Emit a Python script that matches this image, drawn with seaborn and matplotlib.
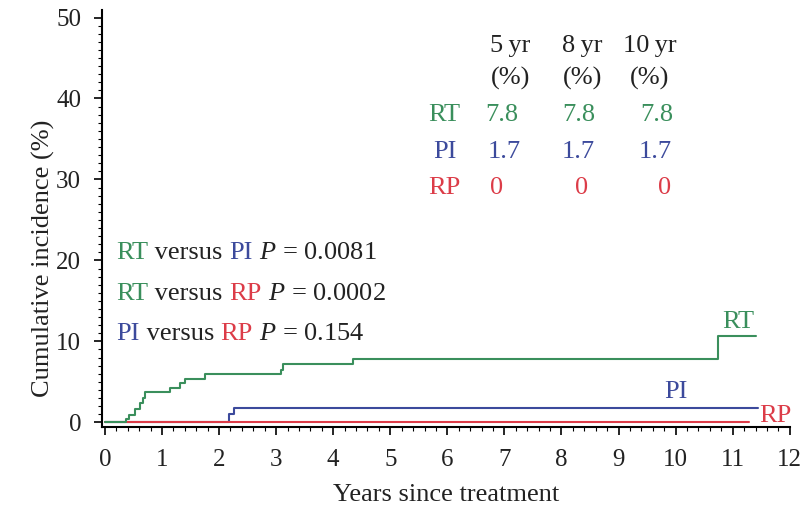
import matplotlib
matplotlib.use("Agg")
import matplotlib.pyplot as plt
import seaborn as sns
import pandas as pd
from matplotlib.ticker import MultipleLocator

# ---- data ----
rt_years = [0, 0.37, 0.43, 0.52, 0.61, 0.66, 0.70, 1.14, 1.31, 1.40, 1.75, 3.09, 3.12, 4.35, 10.75, 11.40]
rt_inc = [0, 0.45, 0.9, 1.7, 2.4, 3.05, 3.7, 4.3, 4.9, 5.3, 5.95, 6.5, 7.15, 7.8, 10.7, 10.7]
pi_years = [0, 2.17, 2.26, 11.45]
pi_inc = [0, 1.0, 1.8, 1.8]
rp_years = [0, 11.28]
rp_inc = [0, 0]

table_cols = ["5\u2009yr", "8\u2009yr", "10\u2009yr"]
table_rows = ["RT", "PI", "RP"]
table_vals = [["7.8", "7.8", "7.8"], ["1.7", "1.7", "1.7"], ["0", "0", "0"]]

GREEN = "#3a8f5c"
BLUE = "#3c4a9c"
RED = "#dc3c48"
K = "#222222"
colors = {"RT": GREEN, "PI": BLUE, "RP": RED}

df = pd.concat([
    pd.DataFrame({"years": pi_years, "inc": pi_inc, "group": "PI"}),
    pd.DataFrame({"years": rp_years, "inc": rp_inc, "group": "RP"}),
    pd.DataFrame({"years": rt_years, "inc": rt_inc, "group": "RT"}),
], ignore_index=True)

sns.set_theme(style="white")
plt.rcParams["font.family"] = ["Liberation Serif", "DejaVu Serif"]
plt.rcParams["mathtext.fontset"] = "custom"
plt.rcParams["mathtext.it"] = "Liberation Serif:italic"
plt.rcParams["mathtext.rm"] = "Liberation Serif"

fig = plt.figure(figsize=(8.1, 5.11), dpi=100)
ax = fig.add_axes([0.126, 0.164, 0.849, 0.816])

for g in ["PI", "RP", "RT"]:
    sub = df[df["group"] == g]
    sns.lineplot(data=sub, x="years", y="inc", ax=ax, color=colors[g],
                 drawstyle="steps-post", linewidth=1.5, estimator=None,
                 sort=False, legend=False)

ax.set_xlim(-0.05, 12.0)
ax.set_ylim(-0.6, 50.9)
ax.xaxis.set_major_locator(MultipleLocator(1))
ax.xaxis.set_minor_locator(MultipleLocator(0.2))
ax.yaxis.set_major_locator(MultipleLocator(10))
ax.yaxis.set_minor_locator(MultipleLocator(1))
ax.tick_params(axis="both", which="major", direction="out", length=6, width=1.2,
               labelsize=18, color="black", labelcolor=K,
               left=True, bottom=True)
ax.tick_params(axis="x", which="major", pad=10)
ax.tick_params(axis="y", which="major", pad=9)
ax.tick_params(axis="both", which="minor", direction="out", length=3, width=0.8,
               color="black", left=True, bottom=True)
for s in ["top", "right"]:
    ax.spines[s].set_visible(False)
for s in ["left", "bottom"]:
    ax.spines[s].set_color("black")
    ax.spines[s].set_linewidth(1.5)

ax.set_xlabel("Years since treatment", fontsize=19, color=K, labelpad=9)
ax.set_ylabel("Cumulative incidence (%)", fontsize=19, color=K)
ax.yaxis.set_label_coords(-0.068, 0.405)

fs = 19
# curve labels
ax.text(11.1, 12.4, "RT", color=GREEN, fontsize=fs, ha="center", va="center")
ax.text(10.0, 3.7, "PI", color=BLUE, fontsize=fs, ha="center", va="center")
ax.text(11.75, 0.8, "RP", color=RED, fontsize=fs, ha="center", va="center")

# table
head_x = [7.11, 8.37, 9.54]
head_y = [46.5, 42.5]
row_label_x = 5.95
row_y = [37.9, 33.4, 28.9]
val_x = [[6.95, 8.30, 9.67], [6.99, 8.30, 9.65], [6.87, 8.35, 9.81]]
for cx, c in zip(head_x, table_cols):
    ax.text(cx, head_y[0], c, fontsize=fs, ha="center", va="center", color=K)
    ax.text(cx, head_y[1], "(%)", fontsize=fs, ha="center", va="center", color=K)
for ry, r, vals, xs in zip(row_y, table_rows, table_vals, val_x):
    ax.text(row_label_x, ry, r, fontsize=fs, ha="center", va="center", color=colors[r])
    for cx, v in zip(xs, vals):
        ax.text(cx, ry, v, fontsize=fs, ha="center", va="center", color=colors[r])


def colored_line(x, y, parts):
    t = None
    for txt, col in parts:
        if t is None:
            t = ax.text(x, y, txt, color=col, fontsize=fs, ha="left", va="center")
        else:
            t = ax.annotate(txt, xycoords=t, xy=(1, 0), va="bottom", ha="left",
                            color=col, fontsize=fs)
    return t


colored_line(0.2, 20.9, [("RT", GREEN), (" versus ", K), ("PI", BLUE), (" $P$ = 0.0081", K)])
colored_line(0.2, 15.9, [("RT", GREEN), (" versus ", K), ("RP", RED), (" $P$ = 0.0002", K)])
colored_line(0.2, 10.9, [("PI", BLUE), (" versus ", K), ("RP", RED), (" $P$ = 0.154", K)])

fig.savefig("out.png", dpi=100)
